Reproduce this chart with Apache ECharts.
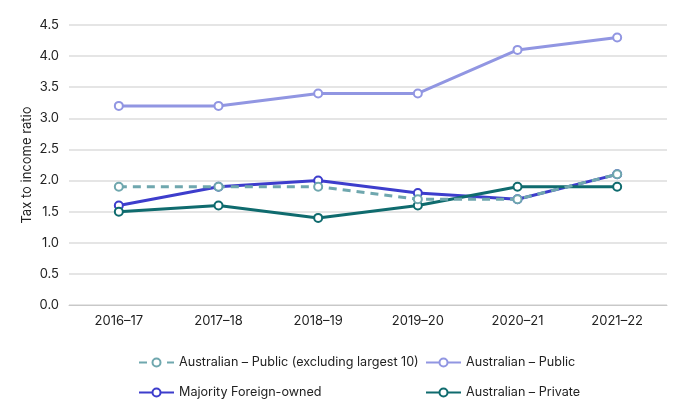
<!DOCTYPE html>
<html><head><meta charset="utf-8">
<script src="https://cdn.jsdelivr.net/npm/echarts@6/dist/echarts.min.js"></script>
<style>html,body{margin:0;padding:0;background:#fff}#c{width:689px;height:416px}</style>
</head><body><div id="c"></div>
<script>
const categories = ['2016–17','2017–18','2018–19','2019–20','2020–21','2021–22'];
const publicExcl10 = [1.9, 1.9, 1.9, 1.7, 1.7, 2.1];
const australianPublic = [3.2, 3.2, 3.4, 3.4, 4.1, 4.3];
const majorityForeign = [1.6, 1.9, 2.0, 1.8, 1.7, 2.1];
const australianPrivate = [1.5, 1.6, 1.4, 1.6, 1.9, 1.9];
const names = ['Australian – Public (excluding largest 10)','Australian – Public','Majority Foreign-owned','Australian – Private'];
const colors = ['#6fa7ae','#9196e2','#3d3dcc','#0f6b6e'];
const font = 'Inter, "Noto Sans", sans-serif';
function mk(i, data, dashed){
  return {name:names[i], type:'line', data:data, symbol:'emptyCircle', symbolSize:8,
    lineStyle:{color:colors[i], width:3, type: dashed?[8,6]:'solid'},
    itemStyle:{color:colors[i], borderWidth:2.5, borderColor:colors[i]},
    emphasis:{disabled:true}, z: dashed?3:2};
}
const legendCommon = {orient:'vertical', top:351, itemGap:17, itemWidth:35, itemHeight:10,
  textStyle:{color:'#222', fontSize:12.6, fontFamily:font}};
const chart = echarts.init(document.getElementById('c'));
chart.setOption({
  animation:false,
  textStyle:{fontFamily:font},
  grid:{left:69, right:22, top:25, bottom:111},
  xAxis:{type:'category', data:categories, boundaryGap:true,
    axisLine:{lineStyle:{color:'#c8c8c8'}},
    axisTick:{alignWithLabel:true, length:6, lineStyle:{color:'#c8c8c8'}},
    axisLabel:{color:'#222', fontSize:13, fontFamily:font, margin:10}},
  yAxis:{type:'value', min:0, max:4.5, interval:0.5,
    name:'Tax to income ratio', nameLocation:'middle', nameGap:35, nameMoveOverlap:false,
    nameTextStyle:{color:'#222', fontSize:13, fontFamily:font},
    axisLabel:{color:'#222', fontSize:13, fontFamily:font, formatter:v=>v.toFixed(1), margin:10},
    splitLine:{lineStyle:{color:'#dcdcdc', width:1.5}},
    axisLine:{show:false}, axisTick:{show:false}},
  legend:[
    Object.assign({data:[names[0], names[2]], left:133}, legendCommon),
    Object.assign({data:[names[1], names[3]], left:420}, legendCommon)
  ],
  series:[
    mk(1, australianPublic, false),
    mk(2, majorityForeign, false),
    mk(3, australianPrivate, false),
    mk(0, publicExcl10, true)
  ]
});
</script></body></html>
